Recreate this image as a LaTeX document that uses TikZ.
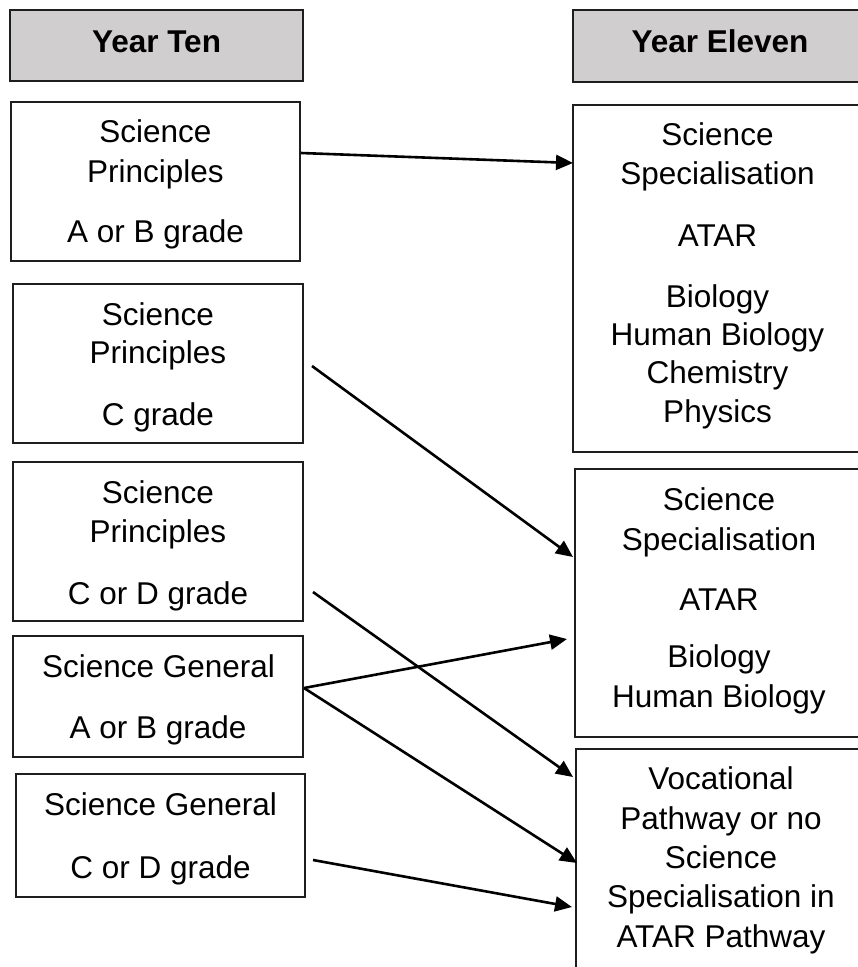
\documentclass[tikz,border=0pt]{standalone}
\usepackage{fontspec}
\setmainfont{Liberation Sans}
\usetikzlibrary{arrows.meta}
\definecolor{hdrgray}{RGB}{208,206,207}
\definecolor{edge}{RGB}{30,30,30}

% rectangle node spanning (x1,y1)-(x2,y2): name, x1, y1, x2, y2, style
\newcommand\panel[6]{%
  \node[#6, rectangle, inner sep=0pt, outer sep=0pt,
        minimum width={(#4-#2)*1pt}, minimum height={(#5-#3)*1pt}]
        (#1) at ({(#2+#4)/2},{(#3+#5)/2}) {};}
% one line of text, placed by its baseline
\newcommand\say[5][txt]{\node[#1] (#2) at (#3,#4) {#5};}

\begin{document}
\begin{tikzpicture}[x=1pt,y=-1pt,
  box/.style={draw=edge, line width=1.3pt, fill=white},
  hdr/.style={draw=edge, line width=1.3pt, fill=hdrgray},
  txt/.style={anchor=base, inner sep=0pt, font=\fontsize{31.5}{38}\selectfont},
  htxt/.style={txt, font=\fontsize{31.5}{38}\selectfont\bfseries},
  link/.style={draw=black, line width=2.6pt, -{Triangle[length=17pt,width=15pt]}}]

\useasboundingbox (0,0) rectangle (858,967);
\clip (0,0) rectangle (858,967);

% column headers
\panel{hten}{10}{10}{303}{81}{hdr}
\panel{helv}{573}{10}{866}{82}{hdr}
\say[htxt]{thten}{156.5}{52}{Year Ten}
\say[htxt]{thelv}{720}{52}{Year Eleven}

% Year Ten courses
\panel{b1}{11}{102}{300}{261}{box}
\panel{b2}{13}{284}{303}{443}{box}
\panel{b3}{13}{462}{303}{621}{box}
\panel{b4}{13}{636}{303}{757}{box}
\panel{b5}{16}{774}{305}{897}{box}

\say{b1a}{155.5}{142}{Science}
\say{b1b}{155.5}{182}{Principles}
\say{b1c}{155.5}{242}{A or B grade}

\say{b2a}{158}{325}{Science}
\say{b2b}{158}{363}{Principles}
\say{b2c}{158}{425}{C grade}

\say{b3a}{158}{503}{Science}
\say{b3b}{158}{542}{Principles}
\say{b3c}{158}{604}{C or D grade}

\say{b4a}{158.5}{677}{Science General}
\say{b4b}{158}{738}{A or B grade}

\say{b5a}{160.5}{815}{Science General}
\say{b5b}{160.5}{878}{C or D grade}

% Year Eleven pathways
\panel{r1}{573}{105}{862}{452}{box}
\panel{r2}{575}{469}{864}{737}{box}
\panel{r3}{576}{749}{866}{990}{box}

\say{r1a}{717.5}{145}{Science}
\say{r1b}{717.5}{184}{Specialisation}
\say{r1c}{717.5}{246}{ATAR}
\say{r1d}{717.5}{307}{Biology}
\say{r1e}{717.5}{345}{Human Biology}
\say{r1f}{717.5}{383}{Chemistry}
\say{r1g}{717.5}{422}{Physics}

\say{r2a}{719}{510}{Science}
\say{r2b}{719}{550}{Specialisation}
\say{r2c}{719}{610}{ATAR}
\say{r2d}{719}{667}{Biology}
\say{r2e}{719}{707}{Human Biology}

\say{r3a}{721}{789}{Vocational}
\say{r3b}{721}{829}{Pathway or no}
\say{r3c}{721}{868}{Science}
\say{r3d}{721}{907}{Specialisation in}
\say{r3e}{721}{947}{ATAR Pathway}

% connector end points
\coordinate (s1) at (301,153);
\coordinate (e1) at (573,163);
\coordinate (s2) at (312,366);
\coordinate (e2) at (573,557);
\coordinate (s3) at (313,592);
\coordinate (e3) at (573,777);
\coordinate (s4) at (304,688);
\coordinate (e4) at (567,639);
\coordinate (e5) at (577,863);
\coordinate (s6) at (313,860);
\coordinate (e6) at (572,907);

\draw[link] (s1) -- (e1);
\draw[link] (s2) -- (e2);
\draw[link] (s3) -- (e3);
\draw[link] (s4) -- (e4);
\draw[link] (s4) -- (e5);
\draw[link] (s6) -- (e6);
\end{tikzpicture}
\end{document}
